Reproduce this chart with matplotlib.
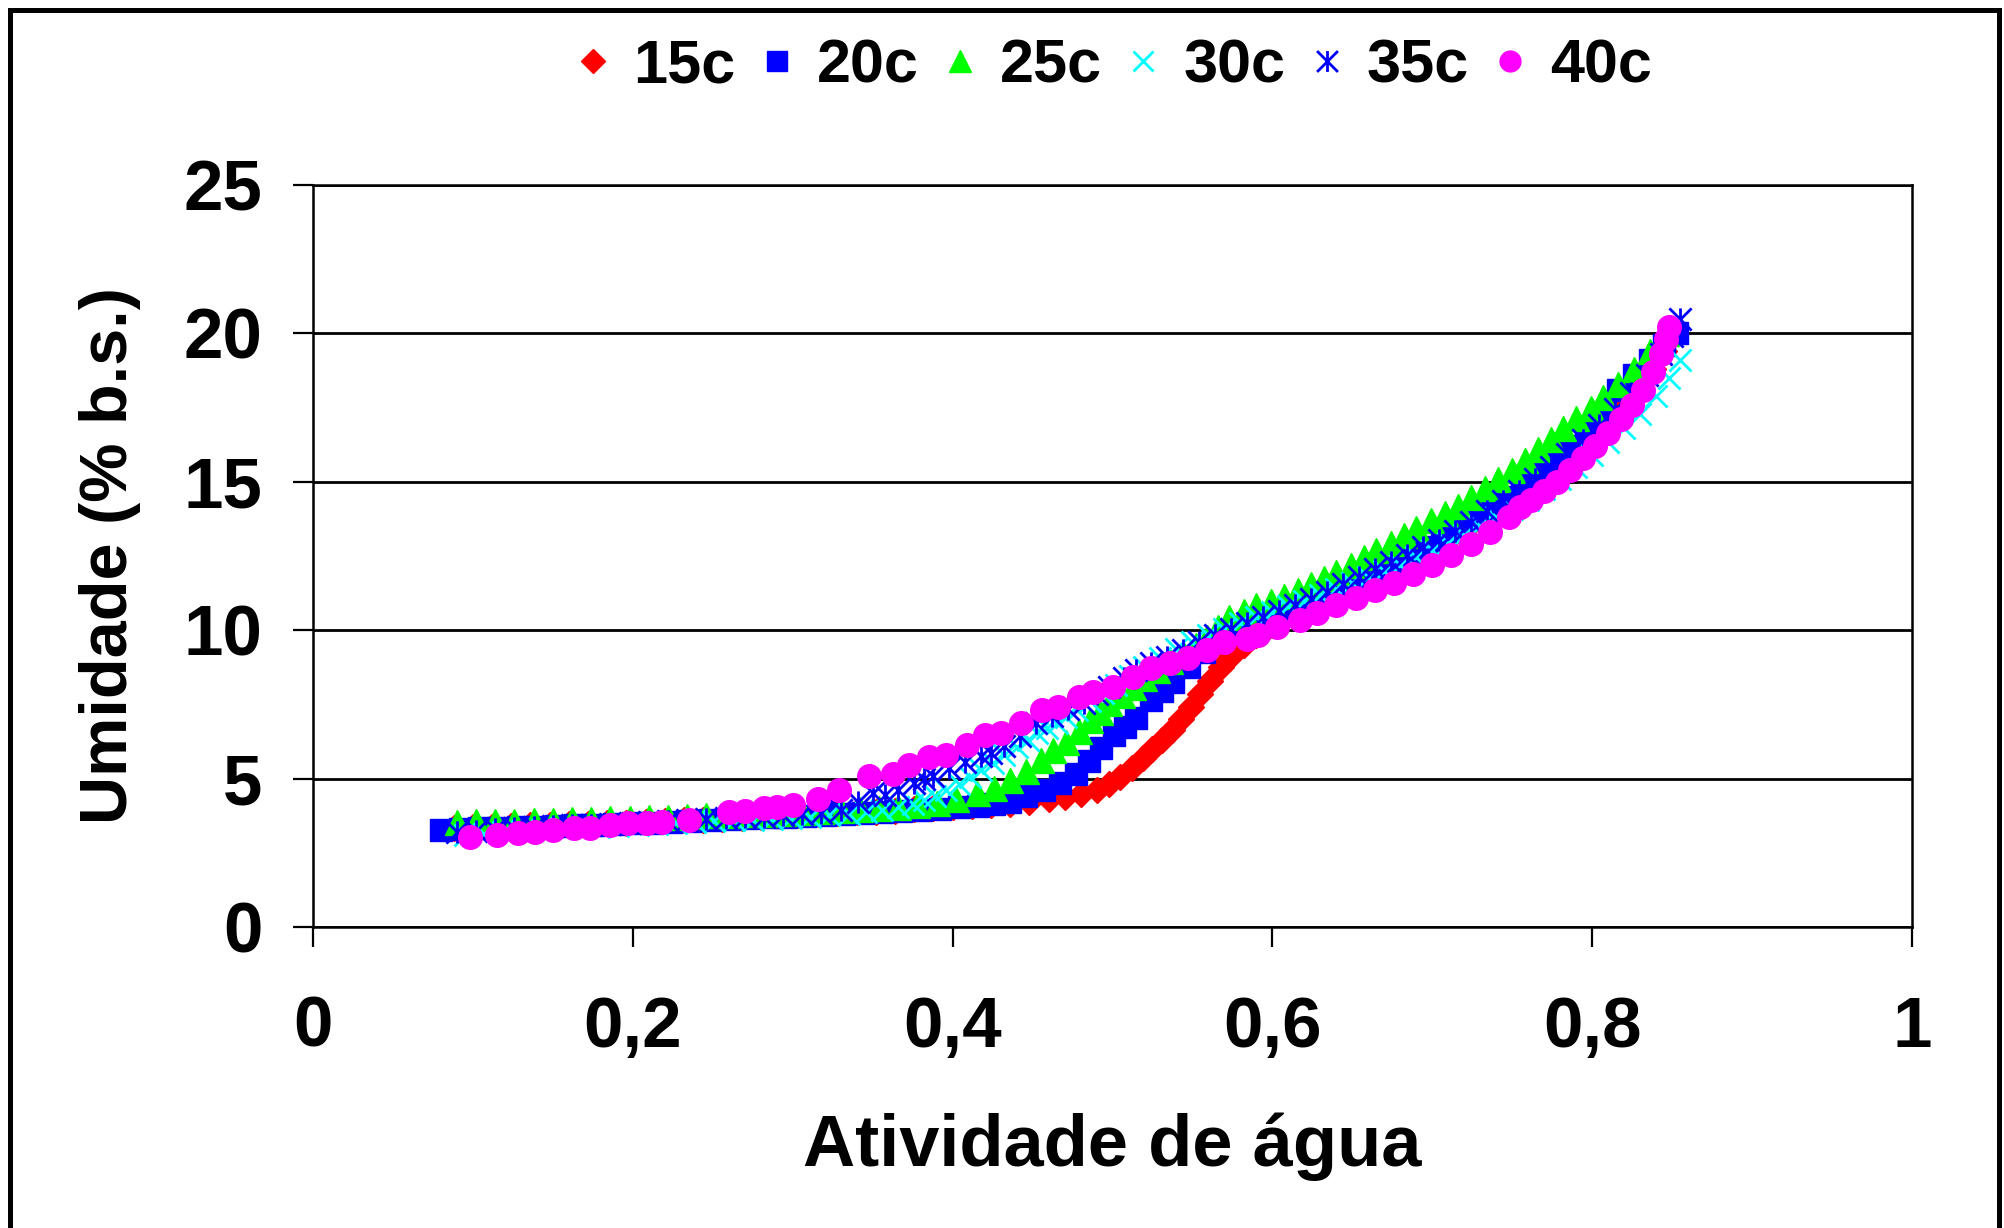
import matplotlib
matplotlib.use("Agg")
import matplotlib.pyplot as plt
from matplotlib.path import Path
from matplotlib.patches import Rectangle
from matplotlib.ticker import FuncFormatter

plt.rcParams['font.family'] = ['Liberation Sans', 'DejaVu Sans']
plt.rcParams['font.weight'] = 'bold'

# ---------------- data ----------------
labels = ["15c", "20c", "25c", "30c", "35c", "40c"]

x15 = [0.088, 0.100, 0.112, 0.124, 0.136, 0.148, 0.160, 0.172, 0.184, 0.196, 0.208, 0.220, 0.232, 0.244,
       0.256, 0.268, 0.280, 0.292, 0.304, 0.316, 0.328, 0.340, 0.352, 0.364, 0.376, 0.388, 0.400, 0.412,
       0.424, 0.436, 0.448, 0.460, 0.470, 0.480, 0.490, 0.498, 0.505, 0.512, 0.519, 0.525, 0.531, 0.537,
       0.543, 0.549, 0.555, 0.561, 0.568, 0.575, 0.582, 0.590, 0.598, 0.606, 0.614, 0.622, 0.630, 0.640,
       0.650, 0.660, 0.670, 0.680, 0.690, 0.700, 0.710, 0.720, 0.730, 0.740, 0.750, 0.760, 0.770, 0.780,
       0.790, 0.800, 0.810, 0.820, 0.830, 0.838, 0.845, 0.850]
y15 = [3.35, 3.36, 3.38, 3.40, 3.42, 3.44, 3.46, 3.48, 3.50, 3.52, 3.55, 3.57, 3.60, 3.62,
       3.65, 3.68, 3.71, 3.74, 3.77, 3.80, 3.83, 3.86, 3.89, 3.92, 3.96, 4.00, 4.03, 4.07,
       4.11, 4.16, 4.22, 4.30, 4.38, 4.48, 4.62, 4.82, 5.05, 5.35, 5.70, 6.00, 6.30, 6.65,
       7.00, 7.40, 7.85, 8.30, 8.75, 9.15, 9.50, 9.85, 10.15, 10.35, 10.55, 10.75, 10.95, 11.2,
       11.45, 11.7, 11.95, 12.2, 12.45, 12.75, 13.05, 13.35, 13.7, 14.05, 14.4, 14.8, 15.2, 15.65,
       16.1, 16.6, 17.1, 17.65, 18.2, 18.8, 19.4, 19.9]

x20 = [0.080, 0.092, 0.104, 0.116, 0.128, 0.140, 0.152, 0.164, 0.176, 0.188, 0.200, 0.212, 0.224, 0.236,
       0.248, 0.260, 0.272, 0.284, 0.296, 0.308, 0.320, 0.332, 0.344, 0.356, 0.368, 0.380, 0.392, 0.404,
       0.416, 0.426, 0.436, 0.446, 0.457, 0.467, 0.477, 0.485, 0.493, 0.501, 0.508, 0.515, 0.524, 0.531,
       0.538, 0.548, 0.557, 0.566, 0.576, 0.586, 0.596, 0.606, 0.616, 0.626, 0.636, 0.646, 0.656, 0.666,
       0.676, 0.686, 0.696, 0.706, 0.716, 0.726, 0.736, 0.746, 0.756, 0.766, 0.776, 0.786, 0.796, 0.806,
       0.816, 0.826, 0.836, 0.845, 0.853]
y20 = [3.27, 3.30, 3.32, 3.34, 3.36, 3.38, 3.40, 3.42, 3.45, 3.47, 3.50, 3.52, 3.55, 3.58,
       3.60, 3.63, 3.66, 3.69, 3.72, 3.75, 3.78, 3.81, 3.84, 3.88, 3.91, 3.95, 3.99, 4.03,
       4.08, 4.14, 4.22, 4.40, 4.60, 4.85, 5.15, 5.60, 6.02, 6.47, 6.75, 7.03, 7.65, 7.95,
       8.27, 8.77, 9.25, 9.60, 9.90, 10.10, 10.30, 10.50, 10.72, 10.95, 11.2, 11.45, 11.7, 11.95,
       12.2, 12.5, 12.8, 13.1, 13.4, 13.75, 14.1, 14.5, 14.9, 15.3, 15.75, 16.2, 16.7, 17.3,
       18.1, 18.6, 19.1, 19.6, 20.0]

x25 = [0.090, 0.102, 0.114, 0.126, 0.138, 0.150, 0.162, 0.174, 0.186, 0.198, 0.210, 0.222, 0.234, 0.246,
       0.258, 0.270, 0.282, 0.294, 0.306, 0.318, 0.330, 0.342, 0.354, 0.366, 0.378, 0.390, 0.402, 0.415,
       0.426, 0.436, 0.446, 0.455, 0.463, 0.471, 0.479, 0.486, 0.492, 0.498, 0.506, 0.513, 0.520, 0.528,
       0.536, 0.544, 0.552, 0.559, 0.566, 0.573, 0.582, 0.590, 0.599, 0.607, 0.616, 0.624, 0.632, 0.640,
       0.649, 0.657, 0.665, 0.674, 0.682, 0.690, 0.699, 0.708, 0.716, 0.724, 0.733, 0.741, 0.750, 0.758,
       0.766, 0.774, 0.782, 0.790, 0.799, 0.807, 0.816, 0.826, 0.836, 0.846]
y25 = [3.55, 3.56, 3.57, 3.58, 3.60, 3.61, 3.63, 3.64, 3.66, 3.68, 3.70, 3.72, 3.74, 3.76,
       3.78, 3.80, 3.82, 3.85, 3.88, 3.91, 3.94, 3.97, 4.00, 4.04, 4.10, 4.18, 4.30, 4.50,
       4.70, 4.95, 5.25, 5.63, 5.95, 6.24, 6.60, 6.97, 7.25, 7.54, 7.80, 8.10, 8.38, 8.66,
       8.95, 9.22, 9.50, 9.78, 10.1, 10.45, 10.65, 10.85, 11.0, 11.15, 11.35, 11.55, 11.75, 11.95,
       12.2, 12.45, 12.7, 12.95, 13.2, 13.45, 13.7, 13.95, 14.2, 14.5, 14.8, 15.1, 15.4, 15.75,
       16.1, 16.45, 16.8, 17.15, 17.5, 17.85, 18.3, 18.8, 19.4, 20.0]

x30 = [0.095, 0.107, 0.119, 0.131, 0.143, 0.155, 0.167, 0.179, 0.191, 0.203, 0.215, 0.227, 0.239, 0.251,
       0.263, 0.275, 0.287, 0.299, 0.311, 0.323, 0.335, 0.346, 0.356, 0.366, 0.375, 0.382, 0.389, 0.396,
       0.404, 0.411, 0.418, 0.425, 0.432, 0.440, 0.447, 0.453, 0.459, 0.465, 0.471, 0.478, 0.486, 0.494,
       0.502, 0.511, 0.520, 0.530, 0.540, 0.550, 0.560, 0.570, 0.580, 0.590, 0.600, 0.610, 0.620, 0.630,
       0.640, 0.650, 0.660, 0.670, 0.680, 0.690, 0.700, 0.710, 0.720, 0.730, 0.740, 0.750, 0.760, 0.770,
       0.780, 0.790, 0.800, 0.810, 0.820, 0.830, 0.840, 0.848, 0.855]
y30 = [3.10, 3.15, 3.20, 3.24, 3.28, 3.32, 3.35, 3.38, 3.41, 3.44, 3.47, 3.50, 3.53, 3.56,
       3.59, 3.62, 3.65, 3.68, 3.72, 3.76, 3.80, 3.86, 3.94, 4.05, 4.15, 4.28, 4.42, 4.60,
       4.82, 5.06, 5.28, 5.51, 5.78, 6.07, 6.30, 6.52, 6.70, 6.86, 7.08, 7.31, 7.60, 7.90,
       8.15, 8.45, 8.75, 9.05, 9.35, 9.60, 9.85, 10.05, 10.25, 10.45, 10.60, 10.80, 11.0, 11.2,
       11.4, 11.6, 11.8, 12.0, 12.2, 12.45, 12.7, 12.95, 13.2, 13.5, 13.8, 14.1, 14.4, 14.75,
       15.1, 15.5, 15.9, 16.35, 16.8, 17.3, 17.9, 18.5, 19.1]

x35 = [0.090, 0.102, 0.114, 0.126, 0.138, 0.150, 0.162, 0.174, 0.186, 0.198, 0.210, 0.222, 0.234, 0.246,
       0.258, 0.270, 0.282, 0.294, 0.306, 0.318, 0.330, 0.341, 0.350, 0.358, 0.366, 0.376, 0.382, 0.388,
       0.398, 0.408, 0.418, 0.424, 0.432, 0.442, 0.452, 0.462, 0.472, 0.482, 0.490, 0.498, 0.507, 0.515,
       0.524, 0.534, 0.544, 0.554, 0.564, 0.574, 0.584, 0.594, 0.604, 0.614, 0.624, 0.634, 0.644, 0.654,
       0.664, 0.674, 0.684, 0.694, 0.704, 0.714, 0.724, 0.734, 0.744, 0.754, 0.764, 0.774, 0.784, 0.794,
       0.804, 0.814, 0.824, 0.834, 0.843, 0.850, 0.855]
y35 = [3.20, 3.25, 3.30, 3.33, 3.36, 3.39, 3.42, 3.45, 3.48, 3.51, 3.54, 3.57, 3.60, 3.63,
       3.66, 3.69, 3.72, 3.76, 3.80, 3.85, 3.95, 4.20, 4.50, 4.45, 4.60, 4.85, 5.00, 5.10,
       5.35, 5.55, 5.75, 5.85, 6.10, 6.45, 6.86, 7.10, 7.35, 7.55, 7.85, 8.10, 8.40, 8.66,
       8.90, 9.10, 9.33, 9.60, 9.85, 10.05, 10.25, 10.45, 10.65, 10.85, 11.05, 11.3, 11.55, 11.8,
       12.05, 12.3, 12.55, 12.8, 13.05, 13.35, 13.65, 14.0, 14.35, 14.7, 15.1, 15.5, 15.95, 16.4,
       16.9, 17.45, 18.0, 18.6, 19.3, 19.9, 20.5]

x40 = [0.098, 0.115, 0.128, 0.139, 0.150, 0.163, 0.173, 0.186, 0.197, 0.209, 0.218, 0.235, 0.260, 0.270,
       0.282, 0.290, 0.300, 0.316, 0.329, 0.348, 0.363, 0.373, 0.385, 0.396, 0.409, 0.420, 0.430, 0.443,
       0.456, 0.466, 0.479, 0.488, 0.500, 0.513, 0.524, 0.536, 0.547, 0.559, 0.570, 0.584, 0.591, 0.603,
       0.617, 0.628, 0.640, 0.652, 0.664, 0.676, 0.688, 0.700, 0.712, 0.724, 0.736, 0.748, 0.755, 0.762,
       0.770, 0.778, 0.786, 0.794, 0.802, 0.810, 0.818, 0.825, 0.832, 0.838, 0.843, 0.846, 0.848]
y40 = [3.02, 3.10, 3.18, 3.21, 3.27, 3.33, 3.35, 3.44, 3.49, 3.51, 3.53, 3.60, 3.88, 3.92,
       4.00, 4.05, 4.10, 4.30, 4.60, 5.08, 5.17, 5.46, 5.74, 5.80, 6.13, 6.47, 6.52, 6.86,
       7.31, 7.42, 7.76, 7.93, 8.07, 8.43, 8.71, 8.88, 9.05, 9.33, 9.61, 9.72, 9.84, 10.12,
       10.34, 10.57, 10.85, 11.1, 11.35, 11.6, 11.9, 12.2, 12.55, 12.9, 13.3, 13.8, 14.15, 14.4,
       14.7, 15.0, 15.4, 15.8, 16.2, 16.65, 17.1, 17.6, 18.1, 18.7, 19.3, 19.8, 20.2]

x_ticks = [0, 0.2, 0.4, 0.6, 0.8, 1.0]
y_ticks = [0, 5, 10, 15, 20, 25]

# ---------------- styling ----------------
star_path = Path([(-1, -1), (1, 1), (-1, 1), (1, -1), (0, -1), (0, 1)],
                 [Path.MOVETO, Path.LINETO, Path.MOVETO, Path.LINETO, Path.MOVETO, Path.LINETO])

styles = [
    dict(marker='D', color='#FF0000', ms=13.5, mfc='#FF0000', mec='#FF0000', mew=1),
    dict(marker='s', color='#0000FF', ms=15.5, mfc='#0000FF', mec='#0000FF', mew=1),
    dict(marker='^', color='#00FF00', ms=18, mfc='#00FF00', mec='#00FF00', mew=1),
    dict(marker='x', color='#00FFFF', ms=16, mfc='none', mec='#00FFFF', mew=2.0),
    dict(marker=star_path, color='#0000FF', ms=16, mfc='none', mec='#0000FF', mew=2.0),
    dict(marker='o', color='#FF00FF', ms=17, mfc='#FF00FF', mec='#FF00FF', mew=1),
]
legend_ms = [12, 14, 16, 15, 15, 15]
xs = [x15, x20, x25, x30, x35, x40]
ys = [y15, y20, y25, y30, y35, y40]

fig = plt.figure(figsize=(20.04, 12.28), dpi=100)
ax = fig.add_axes([313/2004, 1-927/1228, (1912-313)/2004, (927-185)/1228])

handles = []
for x, y, lab, st in zip(xs, ys, labels, styles):
    h, = ax.plot(x, y, linestyle='none', label=lab, **st)
    handles.append(h)

ax.set_xlim(0, 1)
ax.set_ylim(0, 25)
ax.set_xticks(x_ticks)
ax.set_yticks(y_ticks)
ax.xaxis.set_major_formatter(FuncFormatter(lambda v, p: ('%g' % v).replace('.', ',')))
ax.yaxis.set_major_formatter(FuncFormatter(lambda v, p: '%d' % v))
ax.yaxis.grid(True, color='black', linewidth=2.0)
ax.set_axisbelow(True)
for s in ax.spines.values():
    s.set_linewidth(1.8)
    s.set_color('black')
ax.tick_params(axis='both', direction='out', length=14.5, width=1.6, labelsize=51)
ax.tick_params(axis='y', pad=22)
ax.tick_params(axis='x', pad=35)
for t in ax.get_xticklabels() + ax.get_yticklabels():
    t.set_fontweight('bold')

ax.set_xlabel('Atividade de água', fontsize=52, fontweight='bold', va='baseline')
ax.xaxis.set_label_coords(0.5, -0.322)
ax.set_ylabel('Umidade (% b.s.)', fontsize=48, fontweight='bold', va='center')
ax.yaxis.set_label_coords(-0.127, 0.5)

leg = fig.legend(handles=handles, labels=labels, loc='center', bbox_to_anchor=(0.556, 1-67/1228),
                 ncol=6, frameon=False, fontsize=44, handlelength=0.55, handletextpad=0.38,
                 columnspacing=0.40, markerscale=1.0, numpoints=1)
for t in leg.get_texts():
    t.set_fontweight('bold')
for lh, ms in zip(leg.legend_handles, legend_ms):
    lh.set_markersize(ms)

# outer chart border
fig.patches.append(Rectangle((10/2004, -0.05), (1999-10)/2004, 1.05 - 10/1228,
                             transform=fig.transFigure, fill=False, edgecolor='black',
                             linewidth=3.6, clip_on=False))

fig.savefig('out.png', dpi=100, facecolor='white')
